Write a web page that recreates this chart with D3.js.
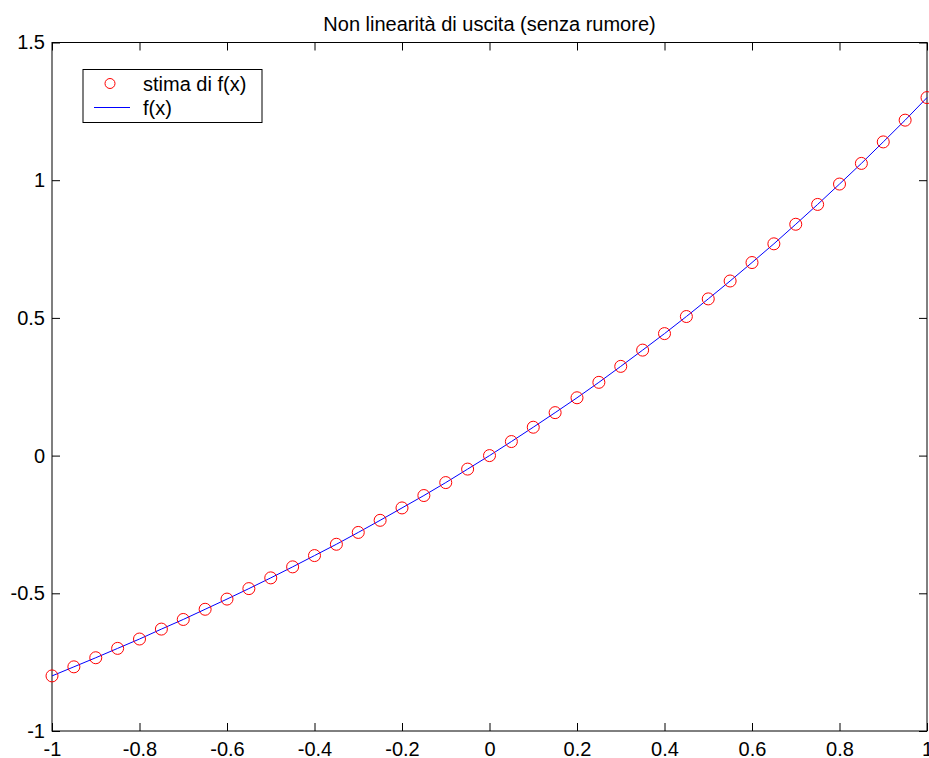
<!DOCTYPE html>
<html>
<head>
<meta charset="utf-8">
<title>Non linearità di uscita</title>
<script src="https://d3js.org/d3.v7.min.js"></script>
<style>
  body { margin: 0; background: #fff; overflow: hidden; }
  svg { display: block; }
  svg text { font-family: "Liberation Sans", Arial, sans-serif; }
</style>
</head>
<body>
<svg width="929" height="758"></svg>
<script>
// campioni x = -1:0.05:1 e stima di f(x)
var xs = [-1, -0.95, -0.9, -0.85, -0.8, -0.75, -0.7, -0.65, -0.6, -0.55, -0.5,
          -0.45, -0.4, -0.35, -0.3, -0.25, -0.2, -0.15, -0.1, -0.05, 0,
          0.05, 0.1, 0.15, 0.2, 0.25, 0.3, 0.35, 0.4, 0.45, 0.5,
          0.55, 0.6, 0.65, 0.7, 0.75, 0.8, 0.85, 0.9, 0.95, 1];
var stima = [-0.800, -0.767, -0.734, -0.700, -0.666, -0.630, -0.595, -0.558, -0.521, -0.483, -0.444,
             -0.404, -0.363, -0.322, -0.279, -0.235, -0.190, -0.145, -0.098, -0.049, 0.000,
             0.051, 0.103, 0.156, 0.210, 0.266, 0.324, 0.383, 0.443, 0.505, 0.569,
             0.634, 0.701, 0.769, 0.840, 0.912, 0.986, 1.061, 1.139, 1.218, 1.300];
var fx = stima.slice(); // la curva f(x) coincide con la stima
var xTicks = [-1, -0.8, -0.6, -0.4, -0.2, 0, 0.2, 0.4, 0.6, 0.8, 1];
var yTicks = [-1, -0.5, 0, 0.5, 1, 1.5];

var svg = d3.select("svg");
var axL = 52, axR = 927, axT = 42.5, axB = 731;

var x = d3.scaleLinear().domain([-1, 1]).range([axL, axR]);
var y = d3.scaleLinear().domain([-1, 1.5]).range([axB, axT]);

// titolo
svg.append("text")
  .attr("x", (axL + axR) / 2)
  .attr("y", 31)
  .attr("text-anchor", "middle")
  .attr("font-size", "20px")
  .text("Non linearità di uscita (senza rumore)");

// assi (tick verso l'interno, stile matlab)
var fmt = function(d){ return String(d); };
var gx = svg.append("g").attr("transform", "translate(0," + axB + ")")
  .call(d3.axisBottom(x).tickValues(xTicks).tickFormat(fmt).tickSizeInner(-8).tickSizeOuter(0).tickPadding(11));
var gy = svg.append("g").attr("transform", "translate(" + axL + ",0)")
  .call(d3.axisLeft(y).tickValues(yTicks).tickFormat(fmt).tickSizeInner(-8).tickSizeOuter(0).tickPadding(7));
var gxt = svg.append("g").attr("transform", "translate(0," + axT + ")")
  .call(d3.axisTop(x).tickValues(xTicks).tickFormat("").tickSizeInner(-8).tickSizeOuter(0));
var gyr = svg.append("g").attr("transform", "translate(" + axR + ",0)")
  .call(d3.axisRight(y).tickValues(yTicks).tickFormat("").tickSizeInner(-8).tickSizeOuter(0));

[gx, gy, gxt, gyr].forEach(function(g){
  g.select(".domain").remove();
  g.selectAll("line").attr("stroke", "#000");
  g.selectAll("text").attr("font-size", "20px").attr("fill", "#000")
    .style("font-family", "'Liberation Sans', Arial, sans-serif");
});

svg.append("rect")
  .attr("x", axL).attr("y", axT)
  .attr("width", axR - axL).attr("height", axB - axT)
  .attr("fill", "none").attr("stroke", "#000").attr("stroke-width", 1);

// curva f(x)
var line = d3.line()
  .x(function(d, i){ return x(xs[i]); })
  .y(function(d){ return y(d); });
svg.append("path")
  .datum(fx)
  .attr("d", line)
  .attr("fill", "none")
  .attr("stroke", "#0000ff")
  .attr("stroke-width", 1);

// marker stima
svg.selectAll(".pt")
  .data(stima)
  .enter().append("circle")
  .attr("class", "pt")
  .attr("cx", function(d, i){ return x(xs[i]); })
  .attr("cy", function(d){ return y(d); })
  .attr("r", 6)
  .attr("fill", "none")
  .attr("stroke", "#ff0000")
  .attr("stroke-width", 1);

// legenda
var lg = svg.append("g");
lg.append("rect")
  .attr("x", 83).attr("y", 69.5).attr("width", 179).attr("height", 53)
  .attr("fill", "#fff").attr("stroke", "#000").attr("stroke-width", 1);
lg.append("circle")
  .attr("cx", 110).attr("cy", 83.5).attr("r", 5)
  .attr("fill", "none").attr("stroke", "#ff0000");
lg.append("text").attr("x", 143).attr("y", 91).attr("font-size", "20px").text("stima di f(x)");
lg.append("line")
  .attr("x1", 94).attr("x2", 130).attr("y1", 107.5).attr("y2", 107.5)
  .attr("stroke", "#0000ff").attr("stroke-width", 1.2);
lg.append("text").attr("x", 143).attr("y", 115).attr("font-size", "20px").text("f(x)");
</script>
</body>
</html>
